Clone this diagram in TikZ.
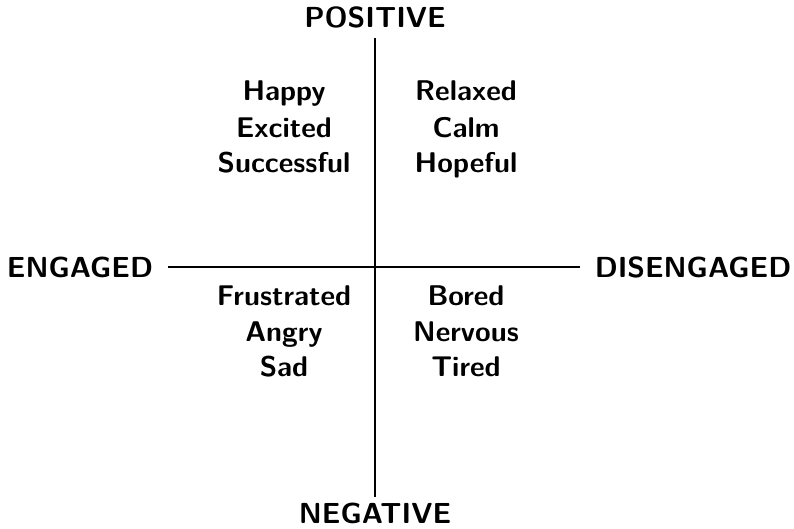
\documentclass[tikz,border=0pt]{standalone}
\begin{document}
\begin{tikzpicture}[x=1pt,y=-1pt,
  axislabel/.style={font=\sffamily\bfseries\fontsize{29}{32}\selectfont, anchor=base, inner sep=0pt},
  word/.style={font=\sffamily\bfseries\fontsize{28.5}{32}\selectfont, anchor=base, inner sep=0pt},
  axis/.style={line width=1.6pt}]
\useasboundingbox (0,0) rectangle (794,528);
\coordinate (top) at (375,38);
\coordinate (bot) at (375,497);
\coordinate (lft) at (168,267);
\coordinate (rgt) at (580,267);
\draw[axis] (top) -- (bot);
\draw[axis] (lft) -- (rgt);
\node[axislabel] (pos) at (375,27) {POSITIVE};
\node[axislabel] (neg) at (375,523) {NEGATIVE};
\node[axislabel] (eng) at (80,277) {ENGAGED};
\node[axislabel] (dis) at (693,277) {DISENGAGED};
\node[word] (w1) at (284,100) {Happy};
\node[word] (w2) at (284,137) {Excited};
\node[word] (w3) at (284,172) {Successful};
\node[word] (w4) at (466,100) {Relaxed};
\node[word] (w5) at (466,137) {Calm};
\node[word] (w6) at (466,172) {Hopeful};
\node[word] (w7) at (284,305) {Frustrated};
\node[word] (w8) at (284,341) {Angry};
\node[word] (w9) at (284,376) {Sad};
\node[word] (w10) at (466,305) {Bored};
\node[word] (w11) at (466,341) {Nervous};
\node[word] (w12) at (466,376) {Tired};
\end{tikzpicture}
\end{document}
